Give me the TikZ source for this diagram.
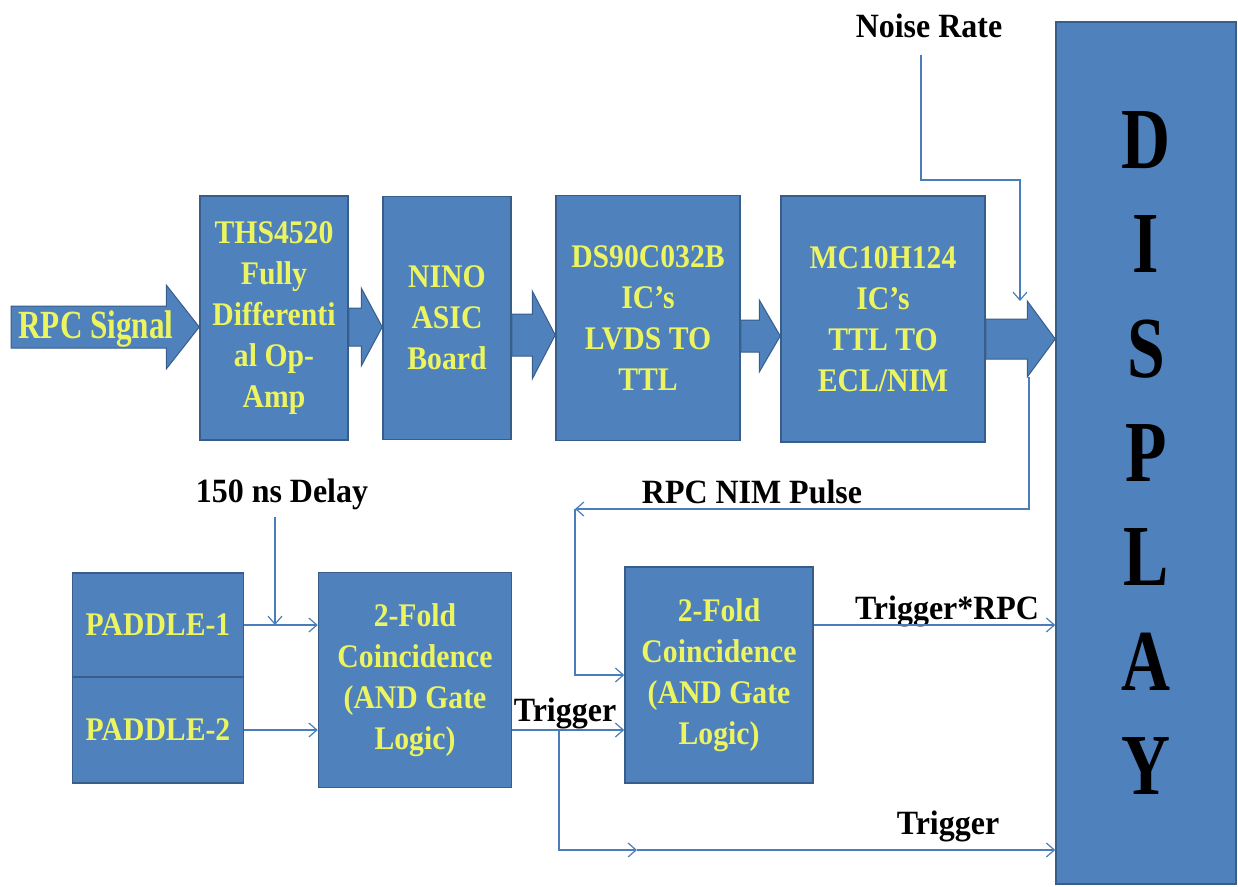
\documentclass[tikz,border=0pt]{standalone}
\usepackage{fontspec}
\setmainfont{Liberation Serif}
\newfontfamily\boxserif[FakeStretch=0.9]{Liberation Serif}
\newfontfamily\labelserif[FakeStretch=0.94]{Liberation Serif}
\newfontfamily\tallserif[FakeStretch=0.78]{Liberation Serif}
\usetikzlibrary{arrows.meta,calc,positioning}
\definecolor{daq@blue}{RGB}{79,129,189}
\definecolor{daq@edge}{RGB}{56,93,138}
\definecolor{daq@yellow}{RGB}{236,244,96}
\definecolor{daq@wire}{RGB}{74,126,187}
\tikzset{
  daq/.style={
    x=1pt, y=-1pt,
    >={Straight Barb[length=8pt,width=14pt]},
    line width=1.2pt
  },
  unit/.style={                    % blue processing block
    draw=daq@edge, line width=1.5pt,
    fill=daq@blue,
    text=daq@yellow,
    inner sep=0pt,
    align=center,
    font=\boxserif\bfseries\fontsize{33}{41}\selectfont
  },
  dispbox/.style={                 % display column
    unit, text=black,
    font=\tallserif\bfseries\fontsize{87}{104.3}\selectfont
  },
  tag/.style={font=\labelserif\bfseries\fontsize{34}{40}\selectfont, inner sep=0pt},
  sigtag/.style={tag, text=daq@yellow, font=\tallserif\bfseries\fontsize{40}{40}\selectfont},
  wire/.style={->, draw=daq@wire, line width=1.2pt},
  blockarrow/.style={fill=daq@blue, draw=daq@edge, line width=1pt, line join=miter}
}
% fat arrow: start, target, row, shaft half height, head half height, head length
\newcommand{\blockarrow}[6]{%
  \filldraw[blockarrow]
    ($(#1 |- 0,#3)+(0,-#4)$) -- ($(#2 |- 0,#3)+(-#6,-#4)$) --
    ($(#2 |- 0,#3)+(-#6,-#5)$) -- (#2 |- 0,#3) --
    ($(#2 |- 0,#3)+(-#6,#5)$) -- ($(#2 |- 0,#3)+(-#6,#4)$) --
    ($(#1 |- 0,#3)+(0,#4)$) -- cycle;}

\begin{document}
\begin{tikzpicture}[daq]
\useasboundingbox (0,0) rectangle (1238,886);

% Top chain
\node[unit, minimum width=148pt, minimum height=244pt] (ths) at (274,318) {THS4520\\Fully\\Differenti\\al Op-\\Amp};
\node[unit, minimum width=128pt, minimum height=243pt] (nino) at (447,318) {NINO\\ASIC\\Board};
\node[unit, minimum width=184pt, minimum height=245pt] (ds) at (648,318) {DS90C032B\\IC’s\\LVDS TO\\TTL};
\node[unit, minimum width=204pt, minimum height=246pt] (mc) at (883,319) {MC10H124\\IC’s\\TTL TO\\ECL/NIM};

% Display
\node[dispbox, minimum width=180pt, minimum height=862pt] (disp) at (1146,453) {D\\I\\S\\P\\L\\A\\Y};

% Trigger side
\node[unit, minimum width=171pt, minimum height=104pt] (pad1) at (158,625) {PADDLE-1};
\node[unit, minimum width=171pt, minimum height=106pt] (pad2) at (158,730) {PADDLE-2};
\node[unit, minimum width=193pt, minimum height=215pt] (and1) at (415,680) {2-Fold\\Coincidence\\(AND Gate\\Logic)};
\node[unit, minimum width=188pt, minimum height=216pt] (and2) at (719,675) {2-Fold\\Coincidence\\(AND Gate\\Logic)};

% Fat signal arrows
\coordinate (sigin) at (11,327);
\blockarrow{sigin}{ths.west}{327}{21}{42}{33}
\blockarrow{ths.east}{nino.west}{327}{19}{39}{21}
\blockarrow{nino.east}{ds.west}{335}{21}{44}{23}
\blockarrow{ds.east}{mc.west}{336}{16}{36}{21}
\blockarrow{mc.east}{disp.west}{339}{20}{38}{28}
\node[sigtag] (rpcsig) at (96,329) {RPC Signal};

% Noise rate
\node[tag] (noise) at (929,26) {Noise Rate};
\coordinate (noisetop) at (921,55);
\coordinate (noisein) at (1020,301);
\draw[wire] (noisetop) |- ($(noisein)+(0,-121)$) -- (noisein);

% RPC NIM pulse back to the second coincidence
\node[tag] (nimtag) at (752,492) {RPC NIM Pulse};
\coordinate (nimout) at (1029,377);
\coordinate (nimturn) at (575,509);
\draw[wire] (nimout) |- (nimturn);
\draw[wire] (nimturn) |- (and2.west);

% Paddles into first coincidence
\node[tag] (delay) at (282,494) {150 ns Delay};
\coordinate (delaytop) at (275,517);
\coordinate (delayjoin) at (275,625);
\draw[wire] (delaytop) -- (delayjoin);
\draw[wire] (pad1.east) -- (pad1.east -| and1.west);
\draw[wire] (pad2.east) -- (pad2.east -| and1.west);

% Trigger
\node[tag] (trig) at (565,713) {Trigger};
\draw[wire] (and1.east |- pad2.east) -- (and2.west |- pad2.east);
\coordinate (trigsplit) at (559,730);
\coordinate (trigmid) at (637,850);
\draw[wire] (trigsplit) |- (trigmid);
\draw[wire] (trigmid) -- (trigmid -| disp.west);
\node[tag] (trigdisp) at (948,826) {Trigger};

% Coincidence output
\node[tag] (trigrpc) at (947,611) {Trigger*RPC};
\draw[wire] (and2.east |- pad1.east) -- (disp.west |- pad1.east);

\end{tikzpicture}
\end{document}
